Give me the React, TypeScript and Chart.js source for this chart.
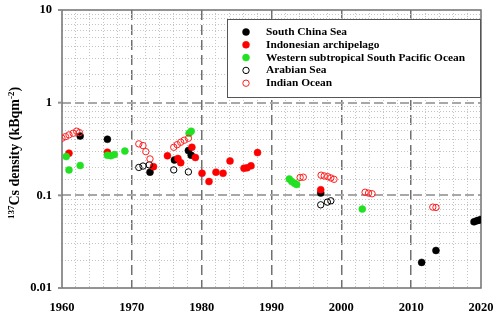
import React, { useEffect, useRef } from "react";
import { Chart, registerables } from "chart.js";

Chart.register(...registerables);

// ---- data ----
const seriesNames = [
  "South China Sea",
  "Indonesian archipelago",
  "Western subtropical South Pacific Ocean",
  "Arabian Sea",
  "Indian Ocean",
];

const scsYears = [1962.6, 1966.5, 1972.6, 1976.1, 1978.1, 1978.5, 1997.05, 2011.5, 2013.55, 2019.0, 2019.4, 2019.7, 2020.0];
const scsValues = [0.436, 0.403, 0.178, 0.241, 0.304, 0.271, 0.106, 0.0189, 0.0254, 0.0518, 0.0531, 0.054, 0.0548];

const indoYears = [1961.0, 1966.5, 1973.1, 1975.1, 1976.6, 1977.0, 1978.6, 1979.1, 1980.05, 1981.05, 1982.05, 1983.06, 1984.06, 1986.06, 1986.5, 1987.06, 1988.0, 1997.05];
const indoValues = [0.285, 0.292, 0.204, 0.267, 0.25, 0.225, 0.33, 0.256, 0.173, 0.141, 0.178, 0.173, 0.235, 0.196, 0.198, 0.208, 0.289, 0.115];

const wspYears = [1960.6, 1961.0, 1962.6, 1966.5, 1967.0, 1967.5, 1969.0, 1978.2, 1978.5, 1992.55, 1992.9, 1993.3, 1993.6, 2003.0];
const wspValues = [0.262, 0.188, 0.21, 0.271, 0.268, 0.275, 0.3, 0.468, 0.492, 0.15, 0.141, 0.135, 0.131, 0.071];

const arabYears = [1971.0, 1971.6, 1972.5, 1976.0, 1978.1, 1997.05, 1998.0, 1998.5];
const arabValues = [0.2, 0.207, 0.213, 0.188, 0.179, 0.079, 0.0845, 0.0873];

const indianYears = [1960.0, 1960.5, 1961.0, 1961.6, 1962.1, 1962.5, 1971.0, 1971.6, 1972.0, 1972.6, 1976.0, 1976.5, 1977.0, 1977.5, 1978.1, 1994.1, 1994.55, 1997.1, 1997.55, 1998.05, 1998.5, 1998.95, 2003.4, 2003.9, 2004.4, 2013.1, 2013.55];
const indianValues = [0.413, 0.43, 0.449, 0.468, 0.492, 0.475, 0.359, 0.344, 0.296, 0.247, 0.33, 0.352, 0.374, 0.393, 0.413, 0.156, 0.157, 0.165, 0.162, 0.159, 0.154, 0.149, 0.108, 0.1057, 0.104, 0.0746, 0.074];

const xTickLabels = ["1960", "1970", "1980", "1990", "2000", "2010", "2020"];
const yTickLabels = ["0.01", "0.1", "1", "10"];

const SERIF = "'Liberation Serif', 'Times New Roman', serif";
const GREEN = "#22e022";

const pts = (xs: number[], ys: number[]) => xs.map((x, i) => ({ x, y: ys[i] }));

const isPow10 = (v: number) => Math.abs(Math.log10(v) - Math.round(Math.log10(v))) < 1e-6;

const zeroPad = (s: any) => {
  s.paddingTop = 0;
  s.paddingBottom = 0;
  s.paddingLeft = 0;
  s.paddingRight = 0;
};

const framePlugin = {
  id: "frame",
  beforeDatasetsDraw(chart: any) {
    const { ctx, chartArea: a } = chart;
    const ys = chart.scales.y;
    ctx.save();
    ctx.strokeStyle = "#707070";
    ctx.lineWidth = 1.5;
    ctx.strokeRect(a.left, a.top, a.right - a.left, a.bottom - a.top);
    ctx.strokeStyle = "#909090";
    ctx.lineWidth = 2;
    [0.01, 0.1, 1, 10].forEach((v) => {
      const y = ys.getPixelForValue(v);
      ctx.beginPath();
      ctx.moveTo(a.left - 4, y);
      ctx.lineTo(a.left, y);
      ctx.stroke();
    });
    ctx.restore();
  },
};

const titlePlugin = {
  id: "ytitle",
  afterDraw(chart: any) {
    const { ctx, chartArea: a } = chart;
    const segs = [
      { t: "137", sup: true },
      { t: "Cs density (kBqm", sup: false },
      { t: "-2", sup: true },
      { t: ")", sup: false },
    ];
    const main = `bold 14px ${SERIF}`;
    const sup = `bold 9px ${SERIF}`;
    ctx.save();
    let total = 0;
    const widths = segs.map((s) => {
      ctx.font = s.sup ? sup : main;
      const w = ctx.measureText(s.t).width;
      total += w;
      return w;
    });
    ctx.translate(14, (a.top + a.bottom) / 2 + 4);
    ctx.rotate(-Math.PI / 2);
    ctx.fillStyle = "#000";
    ctx.textBaseline = "alphabetic";
    ctx.textAlign = "left";
    let x = -total / 2;
    segs.forEach((s, i) => {
      ctx.font = s.sup ? sup : main;
      ctx.fillText(s.t, x, s.sup ? 0 : 5);
      x += widths[i];
    });
    ctx.restore();
  },
};

const legendPlugin = {
  id: "boxlegend",
  afterDraw(chart: any) {
    const { ctx, chartArea: a } = chart;
    const w = 254;
    const h = 78;
    const left = a.right - w;
    const top = a.top + 9;
    ctx.save();
    ctx.fillStyle = "#fff";
    ctx.fillRect(left, top, w, h);
    ctx.strokeStyle = "#555";
    ctx.lineWidth = 1;
    ctx.strokeRect(left + 0.5, top + 0.5, w - 1, h);
    ctx.font = `bold 11.4px ${SERIF}`;
    ctx.textBaseline = "middle";
    ctx.textAlign = "left";
    chart.data.datasets.forEach((ds: any, i: number) => {
      const y = top + 13 + i * 12.8;
      const mx = left + 19;
      ctx.beginPath();
      ctx.arc(mx, y, ds.pointRadius, 0, Math.PI * 2);
      if (ds.pointBackgroundColor !== "rgba(0,0,0,0)") {
        ctx.fillStyle = ds.pointBackgroundColor;
        ctx.fill();
      }
      ctx.strokeStyle = ds.pointBorderColor;
      ctx.lineWidth = ds.pointBorderWidth;
      ctx.stroke();
      ctx.fillStyle = "#000";
      ctx.fillText(ds.label, left + 39, y);
    });
    ctx.restore();
  },
};

export default function App() {
  const ref = useRef<HTMLCanvasElement>(null);

  useEffect(() => {
    if (!ref.current) return;
    const filled = (label: string, xs: number[], ys: number[], color: string, order: number) => ({
      label,
      data: pts(xs, ys),
      pointRadius: 3.5,
      pointBackgroundColor: color,
      pointBorderColor: color,
      pointBorderWidth: 0.5,
      order,
    });
    const open = (label: string, xs: number[], ys: number[], color: string, order: number) => ({
      label,
      data: pts(xs, ys),
      pointRadius: 3.2,
      pointBackgroundColor: "rgba(0,0,0,0)",
      pointBorderColor: color,
      pointBorderWidth: 1,
      order,
    });
    const chart = new Chart(ref.current, {
      type: "scatter",
      data: {
        datasets: [
          filled(seriesNames[0], scsYears, scsValues, "#000000", 5),
          filled(seriesNames[1], indoYears, indoValues, "#ff0000", 4),
          filled(seriesNames[2], wspYears, wspValues, GREEN, 3),
          open(seriesNames[3], arabYears, arabValues, "#000000", 2),
          open(seriesNames[4], indianYears, indianValues, "#ff2020", 1),
        ] as any,
      },
      plugins: [framePlugin, titlePlugin, legendPlugin],
      options: {
        responsive: false,
        animation: false,
        devicePixelRatio: 1,
        layout: { padding: { top: 10, right: 19, left: 0, bottom: 0 } },
        plugins: { legend: { display: false }, tooltip: { enabled: false } },
        scales: {
          x: {
            type: "linear",
            min: 1960,
            max: 2020,
            afterFit: (s: any) => {
              s.height = 30;
              zeroPad(s);
            },
            ticks: {
              stepSize: 2,
              autoSkip: false,
              maxRotation: 0,
              padding: 12,
              color: "#000",
              font: { family: SERIF, size: 12.5, weight: "bold" },
              callback: (v: any) => {
                const n = Math.round(Number(v));
                return n % 10 === 0 ? xTickLabels[(n - 1960) / 10] : "";
              },
            },
            grid: {
              drawTicks: false,
              color: (c: any) => {
                const v = Math.round(c.tick?.value ?? 0);
                if (v === 1960 || v === 2020) return "rgba(0,0,0,0)";
                return v % 10 === 0 ? "#707070" : "#c4c4c4";
              },
              lineWidth: (c: any) => {
                const v = Math.round(c.tick?.value ?? 0);
                return v % 10 === 0 ? 1.5 : 1;
              },
            },
            border: {
              display: false,
              dash: (c: any) => {
                const v = Math.round(c.tick?.value ?? 0);
                return v % 10 === 0 ? [10, 5] : [1, 2];
              },
            },
          },
          y: {
            type: "logarithmic",
            min: 0.01,
            max: 10,
            afterFit: (s: any) => {
              s.width = 62;
              zeroPad(s);
            },
            ticks: {
              autoSkip: false,
              padding: 10,
              color: "#000",
              font: { family: SERIF, size: 12.5, weight: "bold" },
              callback: (v: any) => {
                const n = Number(v);
                if (!isPow10(n)) return "";
                const e = Math.round(Math.log10(n));
                return yTickLabels[e + 2];
              },
            },
            grid: {
              drawTicks: false,
              color: (c: any) => {
                const v = c.tick?.value ?? 1;
                if (isPow10(v)) {
                  const e = Math.round(Math.log10(v));
                  if (e === -2 || e === 1) return "rgba(0,0,0,0)";
                  return "#a8a8a8";
                }
                return "#c4c4c4";
              },
              lineWidth: (c: any) => {
                const v = c.tick?.value ?? 1;
                return isPow10(v) ? 2 : 1;
              },
            },
            border: {
              display: false,
              dash: (c: any) => {
                const v = c.tick?.value ?? 1;
                return isPow10(v) ? [9, 4] : [1, 2];
              },
            },
          },
        },
      } as any,
    });
    return () => chart.destroy();
  }, []);

  return (
    <div style={{ position: "fixed", left: 0, top: 0, width: 500, height: 318, background: "#fff" }}>
      <canvas ref={ref} width={500} height={318} />
    </div>
  );
}
